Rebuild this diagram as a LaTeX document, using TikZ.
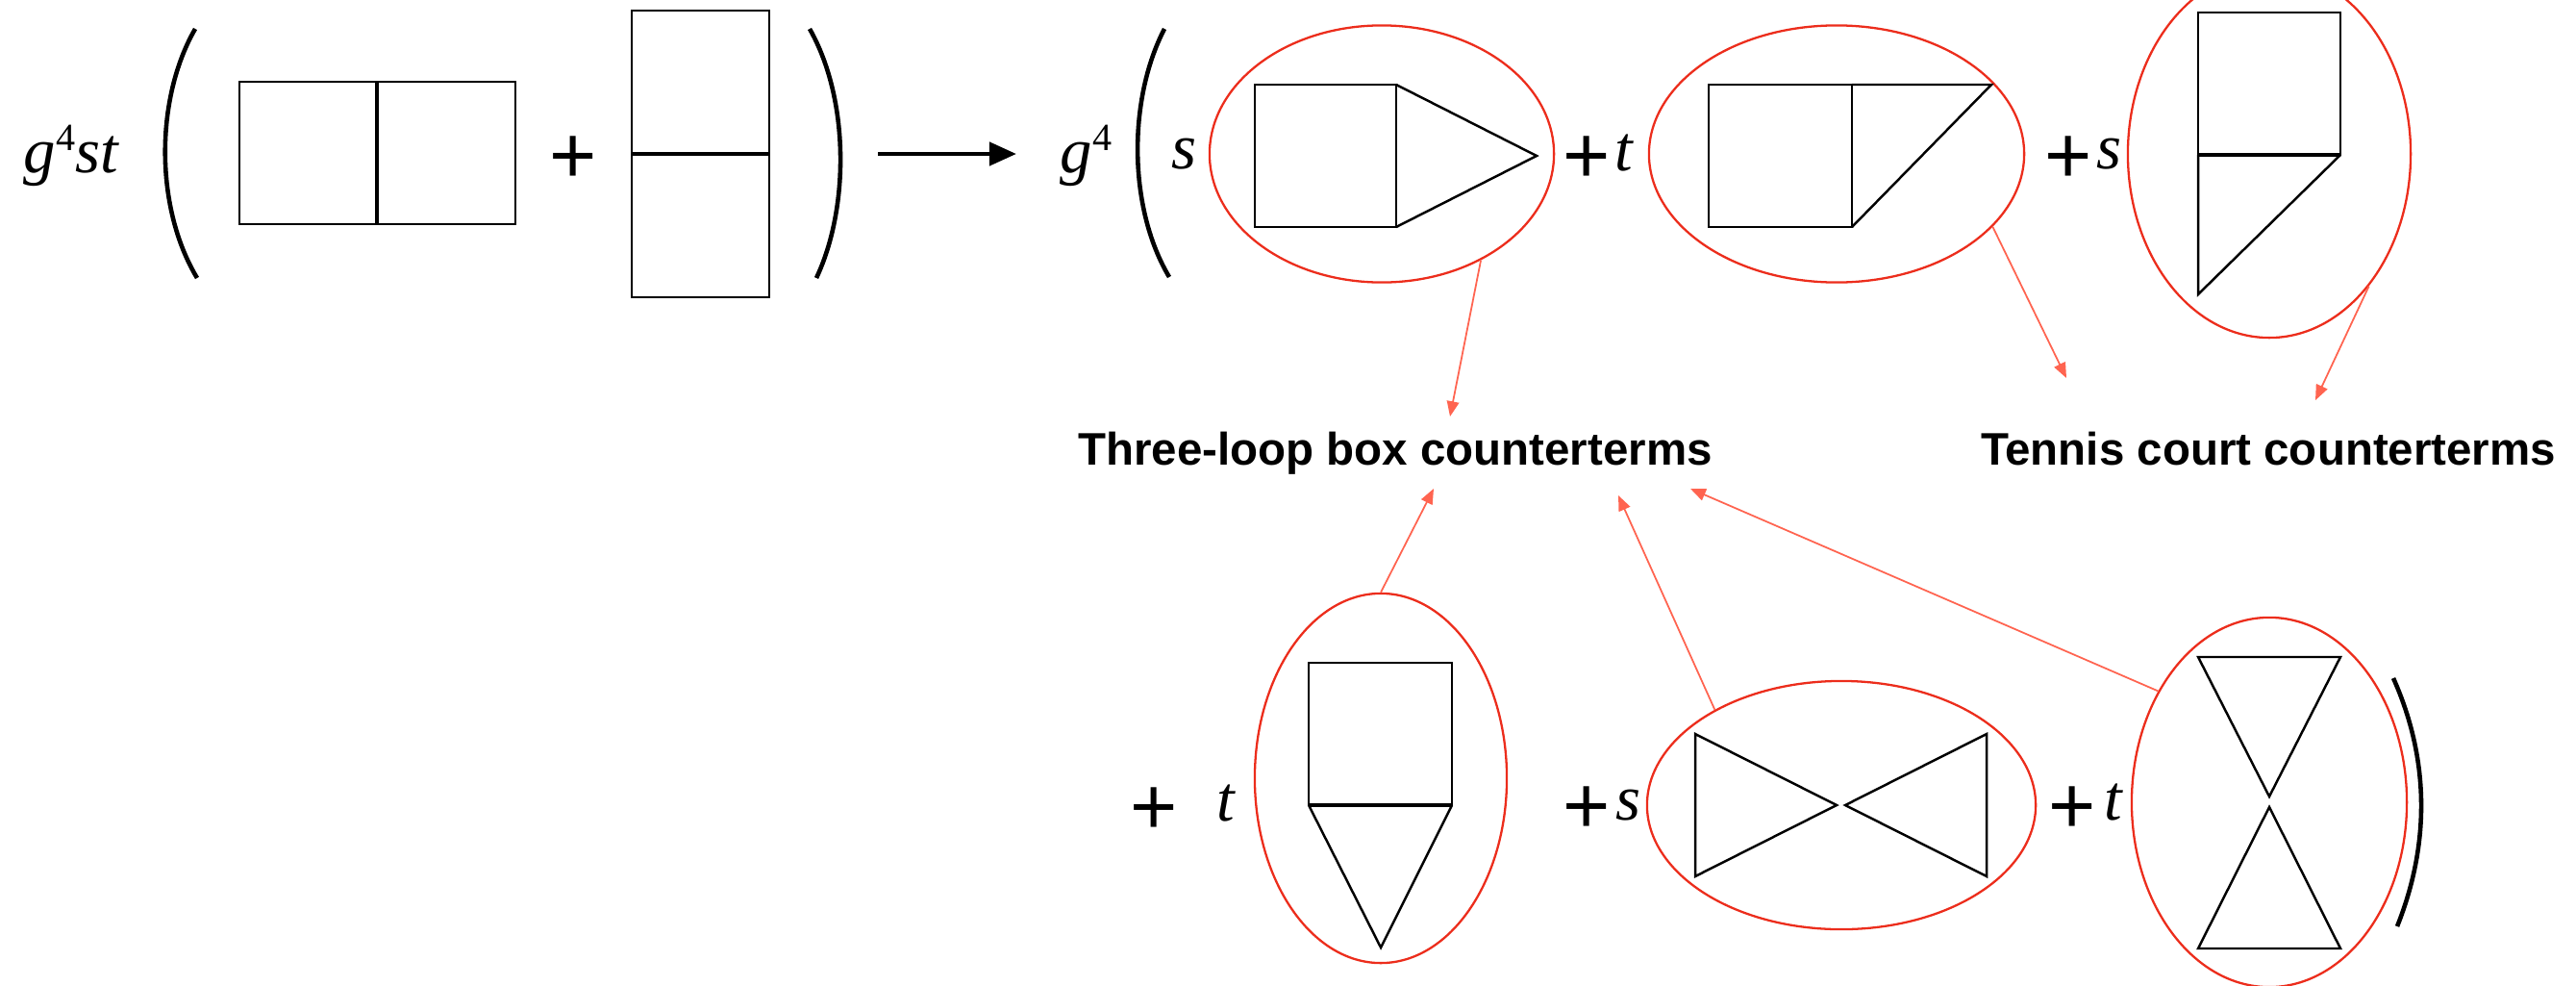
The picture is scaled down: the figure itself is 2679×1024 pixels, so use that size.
\documentclass[tikz,border=0pt]{standalone}
\usepackage{fontspec}
\setmainfont{Liberation Serif}
\newfontfamily\sansplus{Liberation Sans}
\usetikzlibrary{arrows.meta,shapes.geometric}
\definecolor{ellred}{RGB}{236,45,28}
\definecolor{arrsalmon}{RGB}{255,100,80}
\begin{document}
\begin{tikzpicture}[x=0.01cm,y=-0.01cm,
  dia/.style={line width=0.7pt, line join=miter},
  mid/.style={line width=1.05pt},
  paren/.style={line width=1.3pt},
  ell/.style={ellipse, draw=ellred, line width=0.65pt, inner sep=0pt},
  mtxt/.style={inner sep=0pt, anchor=base west, font=\fontsize{19pt}{21pt}\selectfont\itshape},
  plussign/.style={inner sep=0pt, anchor=base, font=\sansplus\fontsize{24pt}{26pt}\selectfont},
  lab/.style={inner sep=0pt, anchor=base, font=\sansplus\bfseries\fontsize{13.5pt}{15pt}\selectfont},
  arr/.style={draw=arrsalmon, line width=0.5pt, -{Triangle[length=4.5pt,width=3.6pt]}},
  bigarr/.style={line width=1.4pt, -{Triangle[length=8pt,width=6.8pt]}}
]
\useasboundingbox (0,0) rectangle (2679,1024);

% ---------- left-hand side ----------
\node[mtxt] (gst) at (24,179) {g\raisebox{6.3pt}{\upshape\fontsize{11.4pt}{12pt}\selectfont 4}st};
\draw[paren] (203,30) .. controls (161,103) and (161,216) .. (205,289);
\draw[dia] (249,85) rectangle (536,233);
\draw[mid] (392,85) -- (392,233);
\node[plussign] (p0) at (596,190) {+};
\draw[dia] (657,11) rectangle (800,309);
\draw[mid] (657,160) -- (800,160);
\draw[paren] (842,30) .. controls (883.5,103) and (883.5,216) .. (849,289);

\coordinate (ast) at (913,160);
\coordinate (aen) at (1057,160);
\draw[bigarr] (ast) -- (aen);

% ---------- right-hand side, top row ----------
\node[mtxt] (g4) at (1102,179) {g\raisebox{6.3pt}{\upshape\fontsize{11.4pt}{12pt}\selectfont 4}};
\draw[paren] (1211,30) .. controls (1173,103) and (1173,216) .. (1216,288);
\node[mtxt] (s1) at (1218,175) {s};

\node[ell, minimum width=3.58cm, minimum height=2.67cm] (E1) at (1437,160) {};
\draw[dia] (1305,88) rectangle (1452,236);
\draw[dia] (1452,88) -- (1598,162) -- (1452,236);

\node[plussign] (p1) at (1650,190) {+};
\node[mtxt] (t1) at (1679,177) {t};

\node[ell, minimum width=3.90cm, minimum height=2.67cm] (E2) at (1910,160) {};
\draw[dia] (1777,88) rectangle (1926,236);
\draw[dia] (1926,88) -- (2071,88) -- (1926,236);

\node[plussign] (p2) at (2151,190) {+};
\node[mtxt] (s2) at (2180,175) {s};

\node[ell, minimum width=2.94cm, minimum height=3.82cm] (E3) at (2360,160) {};
\draw[dia] (2286,13) rectangle (2434,161);
\draw[mid] (2286,161) -- (2434,161);
\draw[dia] (2286,161) -- (2286,306) -- (2434,161);

% ---------- labels ----------
\node[lab] (L1) at (1451,483) {Three-loop box counterterms};
\node[lab] (L2) at (2359,483) {Tennis court counterterms};

% ---------- bottom row ----------
\node[plussign] (p3) at (1200,867) {+};
\node[mtxt] (t2) at (1265,853) {t};

\node[ell, minimum width=2.62cm, minimum height=3.84cm] (B1) at (1436,809) {};
\draw[dia] (1361,689) rectangle (1510,837);
\draw[mid] (1361,837) -- (1510,837);
\draw[dia] (1361,837) -- (1436,985) -- (1510,837);

\node[plussign] (p4) at (1650,866) {+};
\node[mtxt] (s3) at (1680,852) {s};

\node[ell, minimum width=4.04cm, minimum height=2.58cm] (B2) at (1915,837) {};
\draw[dia] (1763,763) -- (1763,911) -- (1910,837) -- cycle;
\draw[dia] (2066,763) -- (2066,911) -- (1919,837) -- cycle;

\node[plussign] (p5) at (2155,866) {+};
\node[mtxt] (t3) at (2188,852) {t};

\node[ell, minimum width=2.86cm, minimum height=3.84cm] (B3) at (2360,834) {};
\draw[dia] (2286,683) -- (2434,683) -- (2360,828) -- cycle;
\draw[dia] (2360,839) -- (2286,986) -- (2434,986) -- cycle;

\draw[paren] (2489,705) .. controls (2527,790) and (2527,878) .. (2493,963);

% ---------- connectors ----------
\coordinate (T1) at (1508,433);
\coordinate (T2) at (2149,393);
\coordinate (T3) at (2408,416);
\coordinate (T4) at (1491,508);
\coordinate (T5) at (1683,515);
\coordinate (T6) at (1758,508);
\draw[arr] (E1.-47.4) -- (T1);
\draw[arr] (E2.-25.8) -- (T2);
\draw[arr] (E3.-53.5) -- (T3);
\draw[arr] (B1.north) -- (T4);
\draw[arr] (B2.143.9) -- (T5);
\draw[arr] (B3.135.5) -- (T6);
\end{tikzpicture}
\end{document}
